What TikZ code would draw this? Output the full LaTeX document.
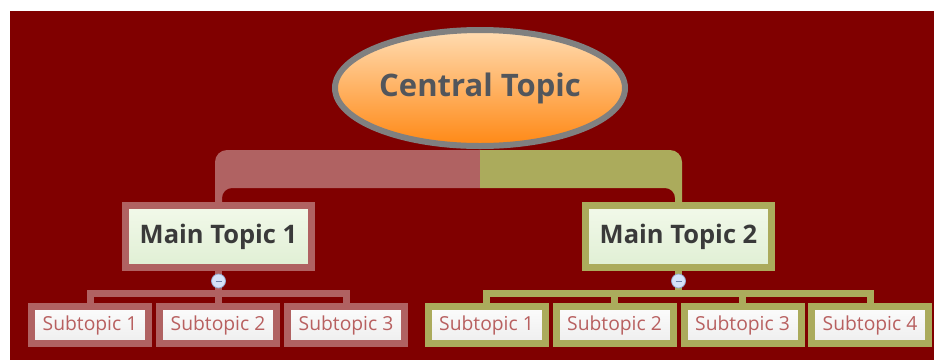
\documentclass[tikz,border=0pt]{standalone}
\usepackage{fontspec}
\setmainfont{Open Sans}
\usetikzlibrary{shapes.geometric,calc}
\definecolor{bgred}{RGB}{128,0,0}
\definecolor{pinkc}{RGB}{176,98,98}
\definecolor{olivec}{RGB}{171,171,92}
\definecolor{ellborder}{RGB}{128,128,128}
\definecolor{elltop}{RGB}{255,220,178}
\definecolor{ellmid}{RGB}{255,180,104}
\definecolor{ellbot}{RGB}{255,136,20}
\definecolor{centraltext}{RGB}{82,86,92}
\definecolor{maintext}{RGB}{58,58,58}
\definecolor{maintop}{RGB}{242,249,234}
\definecolor{mainbot}{RGB}{224,239,212}
\definecolor{subtext}{RGB}{184,96,96}
\definecolor{subtop}{RGB}{252,252,252}
\definecolor{subbot}{RGB}{238,238,238}
\definecolor{btnfill}{RGB}{214,226,248}
\definecolor{btnborder}{RGB}{150,170,210}
\definecolor{btnminus}{RGB}{110,130,170}
\begin{document}
\begin{tikzpicture}[x=1pt,y=1pt,
  mainbox/.style={rectangle, line width=7pt, minimum width=186pt, minimum height=62pt,
    inner sep=0pt, top color=maintop, bottom color=mainbot,
    font=\fontsize{25.5}{30}\selectfont\bfseries, text=maintext},
  subbox/.style={rectangle, line width=7pt, minimum width=117pt, minimum height=37pt,
    inner sep=0pt, top color=subtop, bottom color=subbot,
    font=\fontsize{19.3}{23}\selectfont, text=subtext},
  btn/.style={circle, draw=btnborder, fill=btnfill, minimum size=14pt, inner sep=0pt, line width=0.8pt},
  bracket/.style={line width=7pt}
]
\useasboundingbox (0,0) rectangle (934,-360);
\fill[bgred] (10,-11) rectangle (934,-360);

% nodes
\node[mainbox, draw=pinkc] (m1) at (218.5,-236.5) {Main Topic 1};
\node[mainbox, draw=olivec] (m2) at (678.5,-236.5) {Main Topic 2};

\node[subbox, draw=pinkc] (s11) at (90,-325) {\raisebox{-1.5pt}{Subtopic 1}};
\node[subbox, draw=pinkc] (s12) at (218,-325) {\raisebox{-1.5pt}{Subtopic 2}};
\node[subbox, draw=pinkc] (s13) at (346,-325) {\raisebox{-1.5pt}{Subtopic 3}};

\node[subbox, draw=olivec] (s21) at (486.5,-325) {\raisebox{-1.5pt}{Subtopic 1}};
\node[subbox, draw=olivec] (s22) at (614.5,-325) {\raisebox{-1.5pt}{Subtopic 2}};
\node[subbox, draw=olivec] (s23) at (742.5,-325) {\raisebox{-1.5pt}{Subtopic 3}};
\node[subbox, draw=olivec] (s24) at (870,-325) {\raisebox{-1.5pt}{Subtopic 4}};

\coordinate (bar) at (0,-293.5);

% trunk connector (behind the central topic)
\fill[pinkc] ([xshift=-3.5pt]m1.north) -- ([xshift=-3.5pt]m1.north |- 0,-162)
  arc[start angle=180,end angle=90,radius=12pt] -- (480,-150) -- (480,-188)
  -- ([xshift=13.5pt]m1.north |- 0,-188) arc[start angle=90,end angle=180,radius=10pt]
  -- ([xshift=3.5pt]m1.north) -- cycle;
\fill[olivec] (480,-150) -- ([xshift=-8.5pt]m2.north |- 0,-150)
  arc[start angle=90,end angle=0,radius=12pt] -- ([xshift=3.5pt]m2.north)
  -- ([xshift=-3.5pt]m2.north) -- ([xshift=-3.5pt]m2.north |- 0,-198)
  arc[start angle=0,end angle=90,radius=10pt] -- (480,-188) -- cycle;

\node[ellipse, draw=ellborder, line width=6pt, top color=elltop, middle color=ellmid,
  bottom color=ellbot, minimum width=290pt, minimum height=116pt, inner sep=0pt,
  font=\fontsize{31}{36}\selectfont\bfseries, text=centraltext] (c) at (480,-88) {Central Topic};

% left brackets
\draw[pinkc, bracket] (m1.south) -- (m1.south |- bar);
\draw[pinkc, bracket] (s11.north) -- (s11.north |- bar) -- (s13.north |- bar) -- (s13.north);
\draw[pinkc, bracket] (s12.north) -- (s12.north |- bar);
% right brackets
\draw[olivec, bracket] (m2.south) -- (m2.south |- bar);
\draw[olivec, bracket] (s21.north) -- (s21.north |- bar) -- (s24.north |- bar) -- (s24.north);
\draw[olivec, bracket] (s22.north) -- (s22.north |- bar);
\draw[olivec, bracket] (s23.north) -- (s23.north |- bar);

% collapse buttons
\node[btn] (k1) at (m1.south |- 0,-281) {};
\draw[btnminus, line width=1pt] ([xshift=-3pt]k1.center) -- ([xshift=3pt]k1.center);
\node[btn] (k2) at (m2.south |- 0,-281) {};
\draw[btnminus, line width=1pt] ([xshift=-3pt]k2.center) -- ([xshift=3pt]k2.center);
\end{tikzpicture}
\end{document}
